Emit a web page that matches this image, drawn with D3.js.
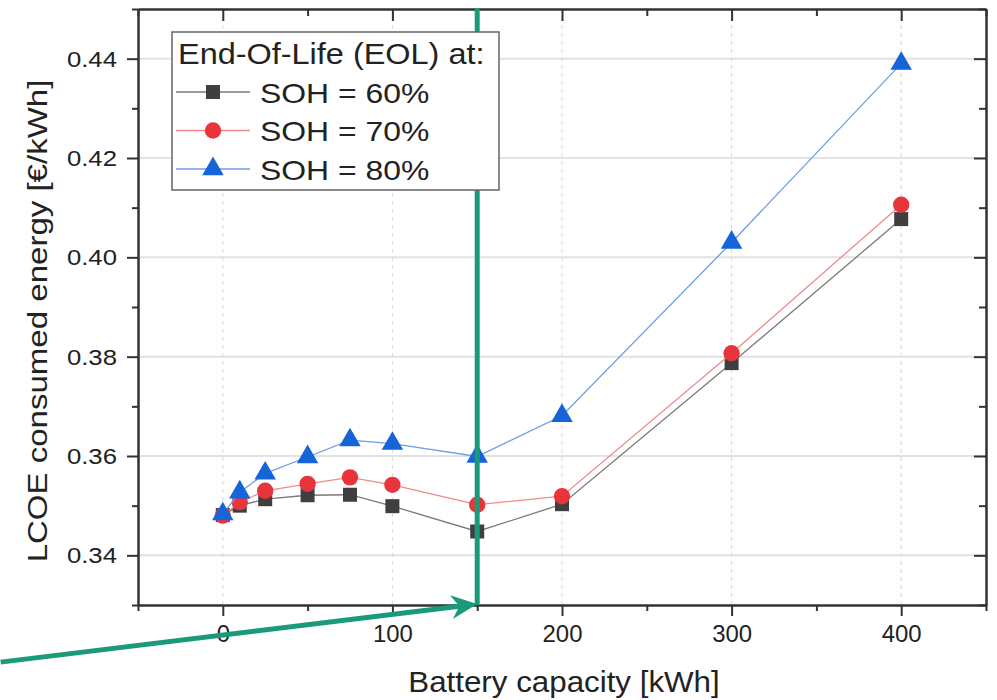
<!DOCTYPE html>
<html>
<head>
<meta charset="utf-8">
<script src="https://cdn.jsdelivr.net/npm/d3@7/dist/d3.min.js"></script>
<style>
html,body{margin:0;padding:0;background:#fff;}
svg text{font-family:"Liberation Sans",Arial,Helvetica,sans-serif;fill:#222;}
</style>
</head>
<body>
<svg id="chart" width="997" height="700"></svg>
<script>
// ---- data ----
const capacity = [0, 10, 25, 50, 75, 100, 150, 200, 300, 400];
const soh60 = [0.3481, 0.3500, 0.3513, 0.3521, 0.3522, 0.3499, 0.3448, 0.3503, 0.3787, 0.4077];
const soh70 = [0.3480, 0.3507, 0.3530, 0.3544, 0.3557, 0.3542, 0.3502, 0.3519, 0.3807, 0.4106];
const soh80 = [0.3483, 0.3527, 0.3565, 0.3598, 0.3632, 0.3625, 0.3599, 0.3681, 0.4030, 0.4390];
const seriesNames = ["SOH = 60%", "SOH = 70%", "SOH = 80%"];
const legendTitle = "End-Of-Life (EOL) at:";
const xTicks = [0, 100, 200, 300, 400];
const xMinorTicks = [-50, 50, 150, 250, 350, 450];
const yTicks = [0.34, 0.36, 0.38, 0.40, 0.42, 0.44];
const yMinorTicks = [0.33, 0.35, 0.37, 0.39, 0.41, 0.43, 0.45];
const markerCapacity = 150;          // highlighted capacity (vertical line)
const arrowStart = [-131, 0.3185];   // arrow tail in data units

// ---- layout ----
const svg = d3.select("#chart");
const L = 138, R = 986, T = 9, B = 605;
const x = d3.scaleLinear().domain([-50, 450]).range([L, R]);
const y = d3.scaleLinear().domain([0.33, 0.45]).range([B, T]);

const styles = [
  {line: "#7a7a7a", fill: "#3f3f3f", sym: d3.symbolSquare, size: 196},
  {line: "#f08a8a", fill: "#e8353b", sym: d3.symbolCircle, size: 210},
  {line: "#6f9de6", fill: "#1565d8", sym: d3.symbolTriangle, size: 200}
];
const series = [soh60, soh70, soh80];

// grid
svg.append("g").selectAll("line").data(yTicks).join("line")
  .attr("x1", L).attr("x2", R).attr("y1", d => y(d)).attr("y2", d => y(d))
  .attr("stroke", "#e2e2e2").attr("stroke-width", 2);
svg.append("g").selectAll("line").data(xTicks).join("line")
  .attr("y1", T).attr("y2", B).attr("x1", d => x(d)).attr("x2", d => x(d))
  .attr("stroke", "#d8d8d8").attr("stroke-width", 1).attr("stroke-dasharray", "4,4");

// axes
const axisColor = "#333";
function styleAxis(g) {
  g.select(".domain").attr("stroke", axisColor).attr("stroke-width", 2);
  g.selectAll(".tick line").attr("stroke", axisColor).attr("stroke-width", 2);
}
const gx = svg.append("g").attr("transform", `translate(0,${B})`)
  .call(d3.axisBottom(x).tickValues(xTicks).tickSize(11).tickSizeOuter(0).tickPadding(10).tickFormat(d3.format("d")));
styleAxis(gx);
gx.selectAll("text").attr("font-size", 23).attr("fill", "#222")
  .attr("transform", "scale(1.04,1)");
svg.append("g").attr("transform", `translate(0,${B})`)
  .call(d3.axisBottom(x).tickValues(xMinorTicks).tickSize(6).tickSizeOuter(0).tickFormat(""))
  .call(styleAxis);

const gy = svg.append("g").attr("transform", `translate(${L},0)`)
  .call(d3.axisLeft(y).tickValues(yTicks).tickSize(11).tickSizeOuter(0).tickPadding(10).tickFormat(d3.format(".2f")));
styleAxis(gy);
gy.selectAll(".tick text").attr("font-size", 23).attr("fill", "#222")
  .attr("x", null)
  .attr("transform", "translate(-21,0) scale(1.12,1)");
svg.append("g").attr("transform", `translate(${L},0)`)
  .call(d3.axisLeft(y).tickValues(yMinorTicks).tickSize(6).tickSizeOuter(0).tickFormat(""))
  .call(styleAxis);

// top & right (inward ticks)
svg.append("g").attr("transform", `translate(0,${T})`)
  .call(d3.axisTop(x).tickValues(xTicks).tickSize(-12).tickSizeOuter(0).tickFormat(""))
  .call(styleAxis);
svg.append("g").attr("transform", `translate(0,${T})`)
  .call(d3.axisTop(x).tickValues(xMinorTicks).tickSize(-7).tickSizeOuter(0).tickFormat(""))
  .call(styleAxis);
svg.append("g").attr("transform", `translate(${R},0)`)
  .call(d3.axisRight(y).tickValues(yTicks).tickSize(-12).tickSizeOuter(0).tickFormat(""))
  .call(styleAxis);
svg.append("g").attr("transform", `translate(${R},0)`)
  .call(d3.axisRight(y).tickValues(yMinorTicks).tickSize(-7).tickSizeOuter(0).tickFormat(""))
  .call(styleAxis);

// axis titles
svg.append("text").attr("transform", `translate(564,692) scale(1.08,1)`)
  .attr("text-anchor", "middle").attr("font-size", 29).text("Battery capacity [kWh]");
svg.append("text").attr("transform", `translate(47,321) rotate(-90) scale(1.18,1)`)
  .attr("text-anchor", "middle").attr("font-size", 28).text("LCOE consumed energy [€/kWh]");

// series
const line = d3.line().x(d => x(d[0])).y(d => y(d[1]));
series.forEach((vals, i) => {
  const pts = capacity.map((c, j) => [c, vals[j]]);
  svg.append("path").datum(pts).attr("d", line)
    .attr("fill", "none").attr("stroke", styles[i].line).attr("stroke-width", 1.3);
  svg.append("g").selectAll("path").data(pts).join("path")
    .attr("transform", d => `translate(${x(d[0])},${y(d[1])})`)
    .attr("d", d3.symbol().type(styles[i].sym).size(styles[i].size))
    .attr("fill", styles[i].fill);
});

// annotation: vertical line + arrow
const green = "#1a9a78";
const vx = x(markerCapacity);
svg.append("line").attr("x1", vx).attr("x2", vx).attr("y1", T - 1).attr("y2", B)
  .attr("stroke", green).attr("stroke-width", 5);
const sx = x(arrowStart[0]), sy = y(arrowStart[1]);
const tx = vx, ty = B - 1;
const len = Math.hypot(tx - sx, ty - sy);
const ux = (tx - sx) / len, uy = (ty - sy) / len;
const nx = -uy, ny = ux;
const headL = 26, headW = 12, notch = 18;
svg.append("line").attr("x1", sx).attr("y1", sy)
  .attr("x2", tx - ux * notch).attr("y2", ty - uy * notch)
  .attr("stroke", green).attr("stroke-width", 5);
svg.append("path").attr("d", d3.line()([
  [tx, ty],
  [tx - ux * headL + nx * headW, ty - uy * headL + ny * headW],
  [tx - ux * notch, ty - uy * notch],
  [tx - ux * headL - nx * headW, ty - uy * headL - ny * headW]
]) + "Z").attr("fill", green);

// legend (drawn above the green line)
const lg = svg.append("g");
lg.append("rect").attr("x", 172).attr("y", 32).attr("width", 327).attr("height", 158)
  .attr("fill", "#fff").attr("stroke", "#666").attr("stroke-width", 1.5);
lg.append("text").attr("transform", "translate(178,64) scale(1.1,1)")
  .attr("font-size", 29.5).text(legendTitle);
seriesNames.forEach((name, i) => {
  const cy = 92 + i * 38.5;
  lg.append("line").attr("x1", 176).attr("x2", 250).attr("y1", cy).attr("y2", cy)
    .attr("stroke", styles[i].line).attr("stroke-width", 1.3);
  lg.append("path").attr("transform", `translate(213,${cy})`)
    .attr("d", d3.symbol().type(styles[i].sym).size(styles[i].size)).attr("fill", styles[i].fill);
  lg.append("text").attr("transform", `translate(260,${cy + 10.5}) scale(1.12,1)`)
    .attr("font-size", 28.5).text(name);
});
</script>
</body>
</html>
